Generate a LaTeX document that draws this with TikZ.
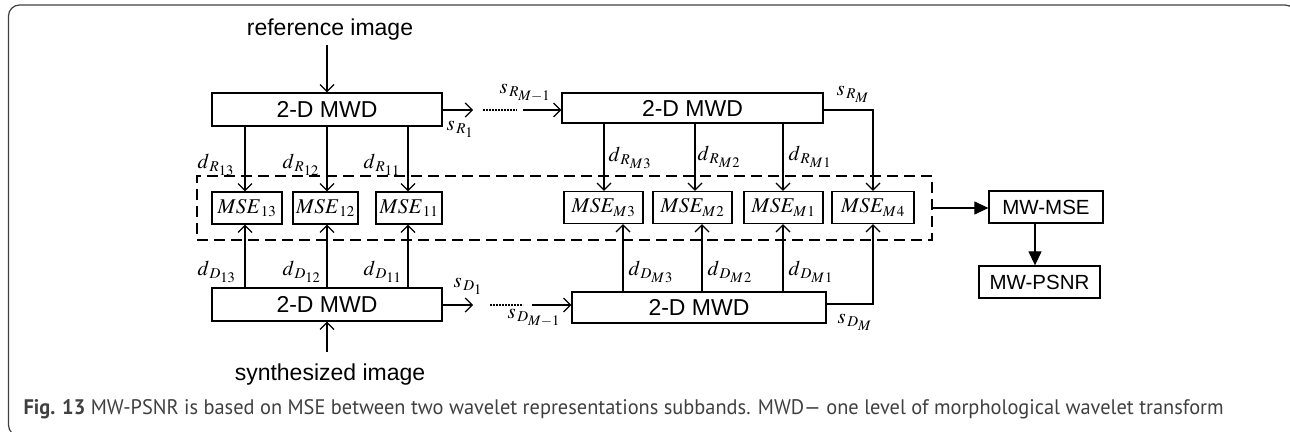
\documentclass[tikz,border=0pt]{standalone}
\usepackage{mathptmx}
\usepackage[no-math]{fontspec}
\setmainfont{Liberation Sans}
\newfontfamily\capfont{PT Sans}
\DeclareMathSizes{21}{21}{15}{14.5}
\usetikzlibrary{arrows.meta}
\newcommand{\subk}[1]{_{\kern1.5pt #1}}
\begin{document}
\begin{tikzpicture}[x=1pt,y=-1pt,line width=1.2pt,
  box/.style={draw,line width=1.3pt,inner sep=0pt,font=\fontsize{23}{27}\selectfont},
  msebox/.style={draw,line width=1.3pt,inner sep=0pt,minimum height=32pt,font=\fontsize{21}{25}\selectfont},
  smallbox/.style={draw,line width=1.3pt,inner sep=0pt,minimum height=32pt,font=\fontsize{20.5}{25}\selectfont},
  txt/.style={inner sep=0pt,font=\fontsize{23}{27}\selectfont},
  lbl/.style={inner sep=0pt,anchor=base west,font=\fontsize{21}{25}\selectfont},
  arr/.style={-{Straight Barb[length=7pt,width=14pt,line width=1.2pt]}},
  farr/.style={-{Triangle[length=14pt,width=13pt]}},
  dotline/.style={line width=2.2pt,dash pattern=on 1.6pt off 1.4pt},
  grpbox/.style={draw,line width=2.6pt,dash pattern=on 11pt off 6pt,inner sep=0pt}]
\useasboundingbox (0,0) rectangle (1290,431);
% frame
\draw[line width=1.2pt,color=black!75,rounded corners=11pt] (8.5,5) rectangle (1296,436);

% input texts
\node[txt] (refimg) at (330,30) {reference image};
\node[txt] (synimg) at (330,375) {synthesized image};
\coordinate (refin) at (327,45);
\coordinate (synin) at (327,352);

% MWD boxes
\node[box,minimum width=230pt,minimum height=33pt] (mwdR1) at (327,109.5) {2-D MWD};
\node[box,minimum width=261pt,minimum height=30pt] (mwdRM) at (692.5,108) {2-D MWD};
\node[box,minimum width=230pt,minimum height=33pt] (mwdD1) at (327,304.5) {2-D MWD};
\node[box,minimum width=254pt,minimum height=31pt] (mwdDM) at (699,307.5) {2-D MWD};

% group
\node[grpbox,minimum width=735pt,minimum height=64pt] (grp) at (564.5,208) {};

% MSE boxes
\node[msebox,minimum width=70pt] (mse13) at (247,208) {$MSE\subk{13}$};
\node[msebox,minimum width=65pt] (mse12) at (325.5,208) {$MSE\subk{12}$};
\node[msebox,minimum width=66pt] (mse11) at (409,208) {$MSE\subk{11}$};
\node[msebox,minimum width=79pt] (mseM3) at (603.5,207.5) {$MSE_{M\kern1pt 3}$};
\node[msebox,minimum width=79pt] (mseM2) at (692.5,207.5) {$MSE_{M\kern1pt 2}$};
\node[msebox,minimum width=79pt] (mseM1) at (783.5,207.5) {$MSE_{M\kern1pt 1}$};
\node[msebox,minimum width=82pt] (mseM4) at (873,207.5) {$MSE_{M\kern1pt 4}$};

% output boxes
\node[smallbox,minimum width=114pt] (mwmse) at (1046,207) {MW-MSE};
\node[smallbox,minimum width=121pt] (mwpsnr) at (1039.5,282) {MW-PSNR};

% inputs
\draw[arr] (refin) -- (mwdR1.north);
\draw[arr] (synin) -- (mwdD1.south);

% top-left decomposition
\draw[arr] (mwdR1.south -| 245,0) -- (mse13.north -| 245,0);
\draw[arr] (mwdR1.south -| 327,0) -- (mse12.north -| 327,0);
\draw[arr] (mwdR1.south -| 408,0) -- (mse11.north -| 408,0);
% bottom-left decomposition
\draw[arr] (mwdD1.north -| 245,0) -- (mse13.south -| 245,0);
\draw[arr] (mwdD1.north -| 327,0) -- (mse12.south -| 327,0);
\draw[arr] (mwdD1.north -| 408,0) -- (mse11.south -| 408,0);
% top-right decomposition
\draw[arr] (mwdRM.south -| 604,0) -- (mseM3.north -| 604,0);
\draw[arr] (mwdRM.south -| 695,0) -- (mseM2.north -| 695,0);
\draw[arr] (mwdRM.south -| 783,0) -- (mseM1.north -| 783,0);
\draw[arr] (mwdRM.east |- 0,110) -| (mseM4.north);
% bottom-right decomposition
\draw[arr] (mwdDM.north -| 623,0) -- (mseM3.south -| 623,0);
\draw[arr] (mwdDM.north -| 702,0) -- (mseM2.south -| 702,0);
\draw[arr] (mwdDM.north -| 783,0) -- (mseM1.south -| 783,0);
\draw[arr] (mwdDM.east |- 0,304) -| (mseM4.south);

% chains
\coordinate (sR1) at (473,110);
\coordinate (dRa) at (483,110);
\coordinate (dRb) at (517,110);
\coordinate (sRm) at (523,110);
\draw[arr] (mwdR1.east |- sR1) -- (sR1);
\draw[dotline] (dRa) -- (dRb);
\draw[arr] (sRm) -- (mwdRM.west |- sRm);
\coordinate (sD1) at (473,305);
\coordinate (dDa) at (490,305);
\coordinate (dDb) at (523,305);
\coordinate (sDm) at (532,305);
\draw[arr] (mwdD1.east |- sD1) -- (sD1);
\draw[dotline] (dDa) -- (dDb);
\draw[arr] (sDm) -- (mwdDM.west |- sDm);

% outputs
\draw[farr] (grp.east) -- (mwmse.west |- grp.east);
\draw[farr] (mwmse.south -| 1035,0) -- (mwpsnr.north -| 1035,0);

% labels
\node[lbl] (ldR13) at (197,168) {$d\subk{R_{13}}$};
\node[lbl] (ldR12) at (282,168) {$d\subk{R_{12}}$};
\node[lbl] (ldR11) at (363,168) {$d\subk{R_{11}}$};
\node[lbl] (ldD13) at (197,275) {$d\subk{D_{13}}$};
\node[lbl] (ldD12) at (282,275) {$d\subk{D_{12}}$};
\node[lbl] (ldD11) at (363,275) {$d\subk{D_{11}}$};
\node[lbl] (ldRM3) at (608,161) {$d\subk{R_{M\kern1pt 3}}$};
\node[lbl] (ldRM2) at (697,160) {$d\subk{R_{M\kern1pt 2}}$};
\node[lbl] (ldRM1) at (788,160) {$d\subk{R_{M\kern1pt 1}}$};
\node[lbl] (ldDM3) at (628,275) {$d\subk{D_{M\kern1pt 3}}$};
\node[lbl] (ldDM2) at (707,275) {$d\subk{D_{M\kern1pt 2}}$};
\node[lbl] (ldDM1) at (788,275) {$d\subk{D_{M\kern1pt 1}}$};
\node[lbl] (lsR1) at (446,130) {$s\subk{R_1}$};
\node[lbl] (lsRm1) at (499,93) {$s\subk{R_{M-1}}$};
\node[lbl] (lsRM) at (836,95) {$s\subk{R_M}$};
\node[lbl] (lsD1) at (453,287) {$s\subk{D_1}$};
\node[lbl] (lsDm1) at (507,318) {$s\subk{D_{M-1}}$};
\node[lbl] (lsDM) at (837,323) {$s\subk{D_M}$};

% caption
\node[anchor=base west,inner sep=0pt,text=black!75] (cap) at (23,414)
  {\resizebox{1200pt}{15pt}{\capfont\fontsize{19}{23}\selectfont\textbf{Fig. 13} MW-PSNR is based on MSE between two wavelet representations subbands. MWD— one level of morphological wavelet transform}};
\end{tikzpicture}
\end{document}
